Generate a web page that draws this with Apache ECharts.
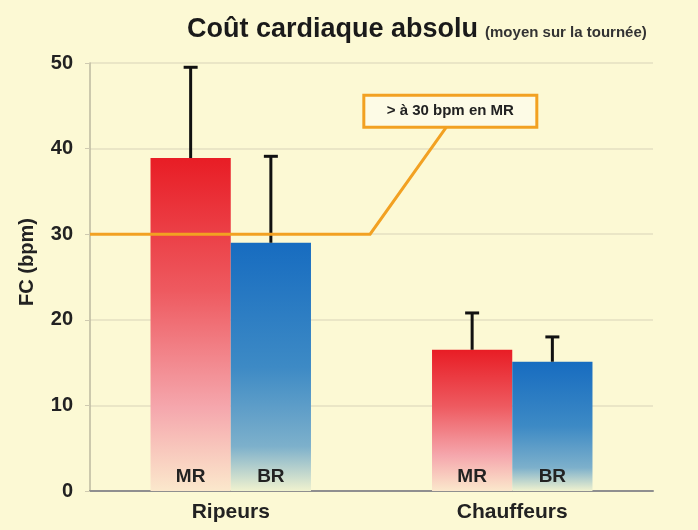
<!DOCTYPE html>
<html><head><meta charset="utf-8">
<script src="https://cdn.jsdelivr.net/npm/echarts@6/dist/echarts.min.js"></script>
<style>html,body{margin:0;padding:0;background:#fcf9d4;}#c{width:698px;height:530px;}</style>
</head><body><div id="c"></div>
<script>
const categories = ['Ripeurs', 'Chauffeurs'];
const mrValues = [38.9, 16.5];
const mrErrors = [49.5, 20.8];
const brValues = [29.0, 15.1];
const brErrors = [39.1, 18.0];
const seriesNames = ['MR', 'BR'];
const yTicks = [0, 10, 20, 30, 40, 50];
const thresholdValue = 30;
const calloutText = '> à 30 bpm en MR';

const FONT = 'Liberation Sans, Arial, sans-serif';
const chart = echarts.init(document.getElementById('c'));

const redGrad = new echarts.graphic.LinearGradient(0, 0, 0, 1, [
  {offset: 0, color: '#e81d25'},
  {offset: 0.4, color: '#ee5a60'},
  {offset: 0.75, color: '#f5a7ad'},
  {offset: 1, color: '#fbe8cc'}
]);
const blueGrad = new echarts.graphic.LinearGradient(0, 0, 0, 1, [
  {offset: 0, color: '#176cc0'},
  {offset: 0.5, color: '#3d8ac5'},
  {offset: 0.82, color: '#7db0cb'},
  {offset: 1, color: '#f0f2cf'}
]);

function errSeries(seriesIdx, errs, vals) {
  return {
    type: 'custom',
    z: 5,
    data: errs.map((e, i) => [i, vals[i], e]),
    renderItem: function (params, api) {
      const ci = api.value(0);
      const base = api.coord([ci, api.value(1)]);
      const top = api.coord([ci, api.value(2)]);
      const bandW = api.size([1, 0])[0];
      const barW = bandW * 0.285;
      const x = base[0] + (seriesIdx === 0 ? -barW / 2 : barW / 2);
      return {
        type: 'group',
        children: [
          {type: 'line', shape: {x1: x, y1: base[1], x2: x, y2: top[1]}, style: {stroke: '#111', lineWidth: 3}},
          {type: 'line', shape: {x1: x - 7, y1: top[1], x2: x + 7, y2: top[1]}, style: {stroke: '#111', lineWidth: 3}}
        ]
      };
    }
  };
}

const barLabel = (name) => ({
  show: true, position: 'insideBottom', distance: 5,
  formatter: name, color: '#222', fontFamily: FONT, fontWeight: 'bold', fontSize: 19
});

chart.setOption({
  backgroundColor: '#fcf9d4',
  animation: false,
  title: {
    text: '{a|Coût cardiaque absolu} {b|(moyen sur la tournée)}',
    left: 182, top: 11,
    textStyle: {
      rich: {
        a: {fontFamily: FONT, fontWeight: 'bold', fontSize: 27, color: '#1a1a1a'},
        b: {fontFamily: FONT, fontWeight: 'bold', fontSize: 15, color: '#333', padding: [6, 0, 0, 2]}
      }
    }
  },
  grid: {left: 90, right: 45, top: 63, bottom: 39},
  xAxis: {
    type: 'category', data: categories,
    axisLine: {lineStyle: {color: '#8f8f8f', width: 2}},
    axisTick: {show: false},
    axisLabel: {color: '#222', fontFamily: FONT, fontWeight: 'bold', fontSize: 21, margin: 11}
  },
  yAxis: {
    type: 'value', min: 0, max: 50, interval: 10,
    name: 'FC (bpm)', nameLocation: 'middle', nameGap: 53,
    nameTextStyle: {color: '#222', fontFamily: FONT, fontWeight: 'bold', fontSize: 20, padding: [0, 0, 0, 30]},
    axisLine: {show: true, lineStyle: {color: '#bdb8a0', width: 1.5}},
    axisTick: {show: true, length: 5, lineStyle: {color: '#cfcab0'}},
    axisLabel: {color: '#222', fontFamily: FONT, fontWeight: 'bold', fontSize: 20, margin: 17,
      formatter: v => yTicks.includes(v) ? String(v) : ''},
    splitLine: {lineStyle: {color: '#e4dfc2', width: 1.5}}
  },
  series: [
    {name: seriesNames[0], type: 'bar', data: mrValues, barWidth: '28.5%', barGap: '0%',
      itemStyle: {color: redGrad}, label: barLabel(seriesNames[0])},
    {name: seriesNames[1], type: 'bar', data: brValues, barWidth: '28.5%', barGap: '0%',
      itemStyle: {color: blueGrad}, label: barLabel(seriesNames[1])},
    errSeries(0, mrErrors, mrValues),
    errSeries(1, brErrors, brValues)
  ]
});

// Threshold annotation
const y30 = chart.convertToPixel({yAxisIndex: 0}, thresholdValue);
const x0 = chart.convertToPixel({xAxisIndex: 0}, 0);
const x1 = chart.convertToPixel({xAxisIndex: 0}, 1);
const band = x1 - x0;
const left = x0 - band / 2;
const elbowX = left + band * 0.995;
const boxCX = left + band * 1.28;
const boxTop = y30 - 139, boxH = 32, boxW = 173;
chart.setOption({
  graphic: [
    {type: 'polyline', z: 10,
      shape: {points: [[left, y30], [elbowX, y30], [boxCX - 4, boxTop + boxH]]},
      style: {stroke: '#f2a122', lineWidth: 3, fill: null}},
    {type: 'rect', z: 11,
      shape: {x: boxCX - boxW / 2, y: boxTop, width: boxW, height: boxH},
      style: {fill: '#fdfbe6', stroke: '#f2a122', lineWidth: 3}},
    {type: 'text', z: 12,
      style: {x: boxCX, y: boxTop + boxH / 2, text: calloutText, align: 'center', verticalAlign: 'middle',
        fill: '#222', font: 'bold 15px ' + FONT}}
  ]
});
</script></body></html>
